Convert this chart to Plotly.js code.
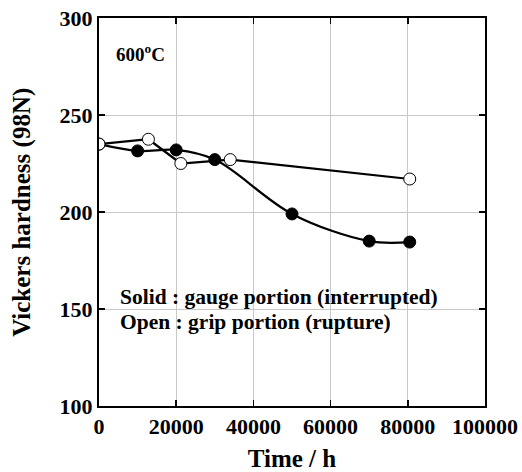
<!DOCTYPE html>
<html>
<head>
<meta charset="utf-8">
<script src="https://cdn.plot.ly/plotly-3.0.1.min.js"></script>
<style>html,body{margin:0;padding:0;background:#fff;}#chart{width:522px;height:472px;}</style>
</head>
<body>
<div id="chart"></div>
<script>
const solidTime = [0, 10000, 20000, 30000, 50000, 70000, 80500];
const solidHardness = [235, 231.5, 232, 227, 199, 185, 184.5];
const openTime = [0, 12800, 21200, 34000, 80500];
const openHardness = [235, 237.5, 225, 227, 217];
const xTicks = [0, 20000, 40000, 60000, 80000, 100000];
const yTicks = [100, 150, 200, 250, 300];

const font = {family: '"Liberation Serif", "Times New Roman", serif', color: '#000'};

const traces = [
  {x: solidTime, y: solidHardness, type: 'scatter', mode: 'lines+markers',
   line: {color: '#000', width: 2.2, shape: 'spline', smoothing: 1},
   marker: {symbol: 'circle', size: 12, color: '#000', line: {color: '#000', width: 1}}},
  {x: openTime, y: openHardness, type: 'scatter', mode: 'lines+markers',
   line: {color: '#000', width: 2.2},
   marker: {symbol: 'circle', size: 12, color: '#fff', line: {color: '#000', width: 1}}}
];

const axisCommon = {showline: true, linecolor: '#000', linewidth: 2, mirror: 'ticks',
  ticks: 'inside', ticklen: 6, tickcolor: '#000', tickwidth: 1.5,
  showgrid: true, gridcolor: '#c8c8c8', gridwidth: 1, zeroline: false,
  tickfont: Object.assign({size: 22, weight: 'bold'}, font)};

const layout = {
  width: 522, height: 472,
  margin: {l: 99, r: 37, t: 18, b: 66},
  paper_bgcolor: '#fff', plot_bgcolor: '#fff',
  showlegend: false,
  xaxis: Object.assign({}, axisCommon, {range: [0, 100000], tickvals: xTicks, ticktext: xTicks.map(String),
    title: {text: 'Time / h', font: Object.assign({size: 25, weight: 'bold'}, font), standoff: 14}}),
  yaxis: Object.assign({}, axisCommon, {range: [100, 300], tickvals: yTicks, ticktext: yTicks.map(String),
    title: {text: ''}}),
  annotations: [
    {xref: 'paper', yref: 'paper', x: -0.2, y: 0.5, xanchor: 'center', yanchor: 'middle', showarrow: false,
     textangle: -90, text: 'Vickers hardness (98N)', font: Object.assign({size: 25, weight: 'bold'}, font)},
    {xref: 'paper', yref: 'paper', x: 0.038, y: 0.91, xanchor: 'left', yanchor: 'middle', showarrow: false,
     text: '600<sup>o</sup>C', font: Object.assign({size: 19, weight: 'bold'}, font)},
    {xref: 'paper', yref: 'paper', x: 0.048, y: 0.28, xanchor: 'left', yanchor: 'middle', showarrow: false,
     text: 'Solid : gauge portion (interrupted)', font: Object.assign({size: 21.5, weight: 'bold'}, font)},
    {xref: 'paper', yref: 'paper', x: 0.048, y: 0.216, xanchor: 'left', yanchor: 'middle', showarrow: false,
     text: 'Open : grip portion (rupture)', font: Object.assign({size: 21.5, weight: 'bold'}, font)}
  ]
};

Plotly.newPlot('chart', traces, layout, {displayModeBar: false, staticPlot: true});
</script>
</body>
</html>
